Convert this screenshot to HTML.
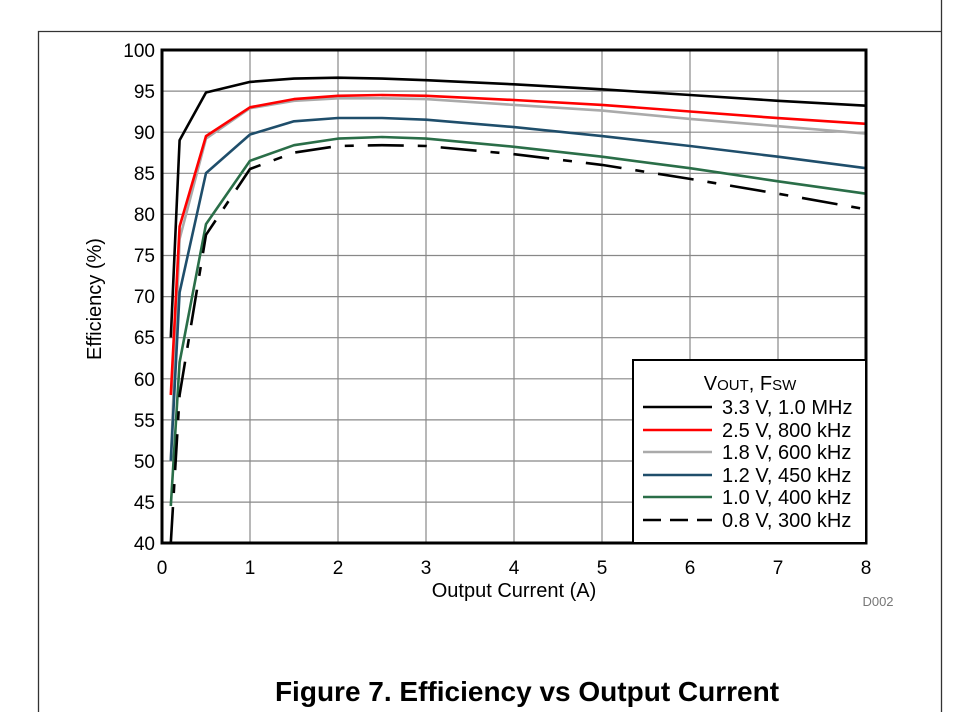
<!DOCTYPE html>
<html><head><meta charset="utf-8"><style>
html,body{margin:0;padding:0;background:#fff;}
svg{display:block;font-family:"Liberation Sans",Arial,sans-serif;}
</style></head><body>
<svg width="960" height="712" viewBox="0 0 960 712" xmlns="http://www.w3.org/2000/svg">
<rect width="960" height="712" fill="#fff"/>
<path d="M38.5 712 V31.5 H941.5 M941.5 0 V712" stroke="#333" stroke-width="1.3" fill="none"/>
<g stroke="#888" stroke-width="1.2">
<line x1="162" x2="866" y1="91.1" y2="91.1"/><line x1="162" x2="866" y1="132.2" y2="132.2"/>
<line x1="162" x2="866" y1="173.3" y2="173.3"/><line x1="162" x2="866" y1="214.4" y2="214.4"/>
<line x1="162" x2="866" y1="255.5" y2="255.5"/><line x1="162" x2="866" y1="296.6" y2="296.6"/>
<line x1="162" x2="866" y1="337.7" y2="337.7"/><line x1="162" x2="866" y1="378.8" y2="378.8"/>
<line x1="162" x2="866" y1="419.9" y2="419.9"/><line x1="162" x2="866" y1="461" y2="461"/>
<line x1="162" x2="866" y1="502.1" y2="502.1"/>
<line x1="250" x2="250" y1="50" y2="543"/><line x1="338" x2="338" y1="50" y2="543"/>
<line x1="426" x2="426" y1="50" y2="543"/><line x1="514" x2="514" y1="50" y2="543"/>
<line x1="602" x2="602" y1="50" y2="543"/><line x1="690" x2="690" y1="50" y2="543"/>
<line x1="778" x2="778" y1="50" y2="543"/>
</g>
<g fill="none" stroke-width="2.6" stroke-linejoin="round">
<polyline stroke="#000" points="170.8,337.5 179.6,140.2 206,92.5 250,81.9 294,78.6 338,77.7 382,78.6 426,80.2 514,84.3 602,89.3 690,95 778,100.8 866,105.7"/>
<polyline stroke="#aaa" points="170.8,460.8 179.6,238.9 206,138.6 250,108.2 294,100.8 338,98.3 382,98.3 426,99.1 514,104.9 602,110.6 690,118.9 778,126.2 866,133.6"/>
<polyline stroke="#f00" points="170.8,395 179.6,226.5 206,136.1 250,107.3 294,99.1 338,95.8 382,95 426,95.8 514,100 602,104.9 690,111.5 778,118.1 866,123.8"/>
<polyline stroke="#1f4e6b" points="170.8,460.8 179.6,292.3 206,173.1 250,134.5 294,121.3 338,118 382,118 426,119.7 514,127.1 602,136.1 690,146 778,156.7 866,168.2"/>
<polyline stroke="#2a6e48" points="170.8,506 179.6,362.2 206,224.1 250,160.8 294,145.2 338,138.6 382,137 426,138.6 514,146.8 602,156.7 690,168.2 778,181.3 866,193.7"/>
<polyline stroke="#000" stroke-dasharray="36,14,9,14" points="170.8,543 179.6,395 206,234.8 250,169 294,152.6 338,146 382,145.2 426,146 514,154.2 602,164.9 690,178.9 778,193.7 866,209.3"/>
</g>
<rect x="162" y="50" width="704" height="493" fill="none" stroke="#000" stroke-width="3"/>
<rect x="633" y="360" width="233" height="183" fill="#fff" stroke="#000" stroke-width="2"/>
<g font-size="20" fill="#000">
<text x="750" y="390" text-anchor="middle">V<tspan font-size="15">OUT</tspan>, F<tspan font-size="15">SW</tspan></text>
<text x="722" y="414">3.3 V, 1.0 MHz</text>
<text x="722" y="437">2.5 V, 800 kHz</text>
<text x="722" y="459">1.8 V, 600 kHz</text>
<text x="722" y="482">1.2 V, 450 kHz</text>
<text x="722" y="504">1.0 V, 400 kHz</text>
<text x="722" y="527">0.8 V, 300 kHz</text>
</g>
<g stroke-width="2.6">
<line x1="643" x2="712" y1="407" y2="407" stroke="#000"/>
<line x1="643" x2="712" y1="430" y2="430" stroke="#f00"/>
<line x1="643" x2="712" y1="452" y2="452" stroke="#aaa"/>
<line x1="643" x2="712" y1="475" y2="475" stroke="#1f4e6b"/>
<line x1="643" x2="712" y1="497" y2="497" stroke="#2a6e48"/>
<line x1="643" x2="712" y1="520" y2="520" stroke="#000" stroke-dasharray="18,9"/>
</g>
<g font-size="19" fill="#000" text-anchor="end">
<text x="155" y="57">100</text><text x="155" y="98">95</text><text x="155" y="139">90</text>
<text x="155" y="180">85</text><text x="155" y="221">80</text><text x="155" y="262">75</text>
<text x="155" y="303">70</text><text x="155" y="344">65</text><text x="155" y="386">60</text>
<text x="155" y="427">55</text><text x="155" y="468">50</text><text x="155" y="509">45</text>
<text x="155" y="550">40</text>
</g>
<g font-size="19" fill="#000" text-anchor="middle">
<text x="162" y="574">0</text><text x="250" y="574">1</text><text x="338" y="574">2</text>
<text x="426" y="574">3</text><text x="514" y="574">4</text><text x="602" y="574">5</text>
<text x="690" y="574">6</text><text x="778" y="574">7</text><text x="866" y="574">8</text>
</g>
<text x="514" y="597" font-size="20" text-anchor="middle">Output Current (A)</text>
<text transform="translate(101,299) rotate(-90)" font-size="20" text-anchor="middle">Efficiency (%)</text>
<text x="878" y="606" font-size="13" fill="#777" text-anchor="middle">D002</text>
<text x="527" y="701" font-size="28" font-weight="bold" text-anchor="middle">Figure 7. Efficiency vs Output Current</text>
</svg>
</body></html>
